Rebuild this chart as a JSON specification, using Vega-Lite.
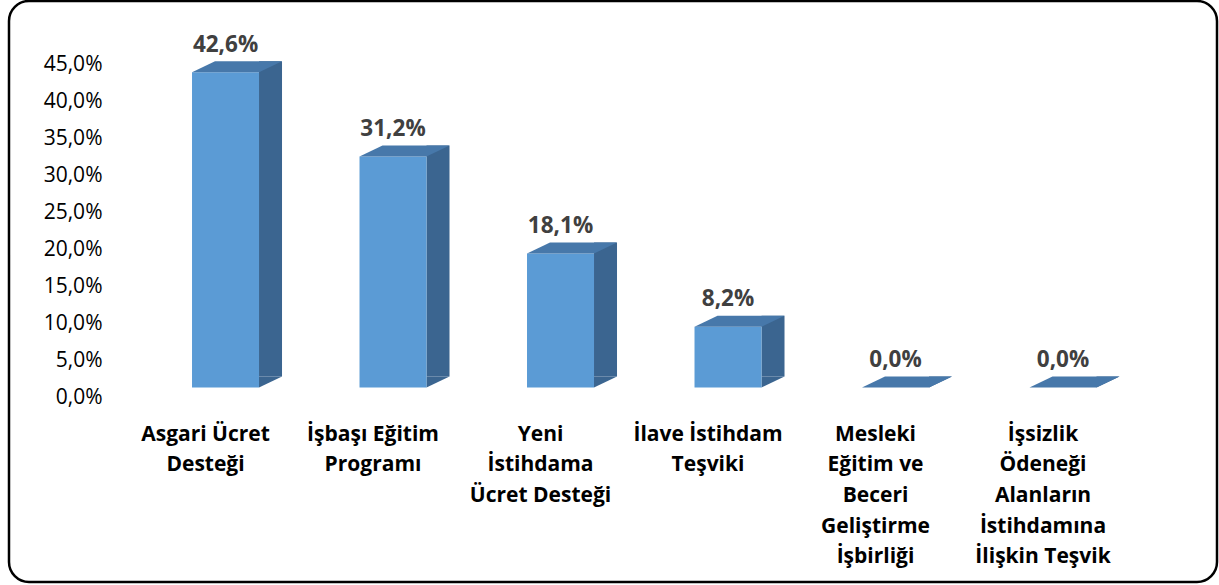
{
  "$schema": "https://vega.github.io/schema/vega-lite/v6.json",
  "width": 1208,
  "height": 581,
  "autosize": {"type": "none"},
  "padding": {"left": 9, "top": 1, "right": 2, "bottom": 3},
  "background": "white",
  "config": {
    "locale": {"number": {"decimal": ",", "thousands": ".", "grouping": [3], "currency": ["", " TL"]}},
    "view": {"stroke": "#000000", "strokeWidth": 2.5, "cornerRadius": 20},
    "font": "Open Sans"
  },
  "data": {
    "values": [
      {"kategori": "Asgari Ücret\nDesteği", "oran": 0.426},
      {"kategori": "İşbaşı Eğitim\nProgramı", "oran": 0.312},
      {"kategori": "Yeni\nİstihdama\nÜcret Desteği", "oran": 0.181},
      {"kategori": "İlave İstihdam\nTeşviki", "oran": 0.082},
      {"kategori": "Mesleki\nEğitim ve\nBeceri\nGeliştirme\nİşbirliği", "oran": 0.0},
      {"kategori": "İşsizlik\nÖdeneği\nAlanların\nİstihdamına\nİlişkin Teşvik", "oran": 0.0}
    ]
  },
  "encoding": {
    "x": {
      "field": "kategori",
      "type": "nominal",
      "sort": null,
      "scale": {"paddingInner": 0, "paddingOuter": 0.606, "align": 0.654},
      "axis": {
        "title": null,
        "orient": "bottom",
        "offset": -159,
        "domain": false,
        "ticks": false,
        "tickSize": 0,
        "labelPadding": 0,
        "labelOffset": -20,
        "labelAngle": 0,
        "labelBaseline": "top",
        "labelAlign": "center",
        "labelFont": "Open Sans",
        "labelFontSize": 21,
        "labelFontWeight": "bold",
        "labelColor": "#000000",
        "labelLineHeight": 30.7,
        "labelLimit": 400,
        "labelOverlap": false,
        "labelExpr": "split(datum.label, '\\n')"
      }
    },
    "y": {
      "field": "oran",
      "type": "quantitative",
      "scale": {"domain": [-0.26284, 0.5223], "nice": false, "zero": false},
      "axis": {
        "title": null,
        "orient": "left",
        "offset": -93,
        "grid": false,
        "domain": false,
        "ticks": false,
        "tickSize": 0,
        "labelPadding": 0,
        "labelOffset": 10,
        "labelFont": "Open Sans",
        "labelFontSize": 21,
        "labelColor": "#000000",
        "labelFlush": false,
        "labelOverlap": false,
        "values": [0, 0.05, 0.1, 0.15, 0.2, 0.25, 0.3, 0.35, 0.4, 0.45],
        "format": ".1%"
      }
    }
  },
  "layer": [
    {
      "mark": {"type": "bar", "width": 23, "xOffset": 45, "yOffset": -11, "y2Offset": -11, "color": "#3B6590"},
      "encoding": {"y2": {"datum": 0}}
    },
    {
      "mark": {"type": "point", "shape": "M 33.5 -11 L 56.5 -11 L 33.5 0 Z", "size": 4, "filled": true, "opacity": 1, "color": "#3B6590"},
      "encoding": {"y": {"datum": 0}}
    },
    {
      "mark": {"type": "bar", "width": 67, "color": "#5B9BD5"},
      "encoding": {"y2": {"datum": 0}}
    },
    {
      "mark": {"type": "point", "shape": "M -33.5 0 L 33.5 0 L 56.5 -11 L -10.5 -11 Z", "size": 4, "filled": true, "opacity": 1, "color": "#4778AA"}
    },
    {
      "mark": {"type": "text", "dy": -27.5, "baseline": "middle", "align": "center", "font": "Open Sans", "fontSize": 22.5, "fontWeight": "bold", "color": "#404040"},
      "encoding": {"text": {"field": "oran", "type": "quantitative", "format": ".1%"}}
    }
  ]
}
